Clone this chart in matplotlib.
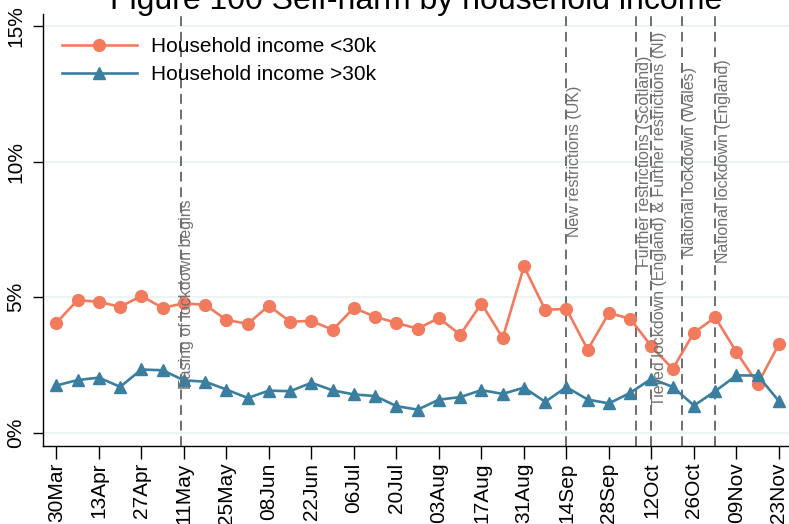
import pandas as pd
import matplotlib
matplotlib.use('Agg')
import matplotlib.pyplot as plt
import matplotlib.dates as mdates

plt.rcParams['font.family'] = ['Liberation Sans', 'DejaVu Sans']

# weekly survey waves (2020)
weeks = ['30Mar', '06Apr', '13Apr', '20Apr', '27Apr', '04May', '11May', '18May',
         '25May', '01Jun', '08Jun', '15Jun', '22Jun', '29Jun', '06Jul', '13Jul',
         '20Jul', '27Jul', '03Aug', '10Aug', '17Aug', '24Aug', '31Aug', '07Sep',
         '14Sep', '21Sep', '28Sep', '05Oct', '12Oct', '19Oct', '26Oct', '02Nov',
         '09Nov', '16Nov', '23Nov']

# % reporting self-harm
income_low = [4.06, 4.90, 4.83, 4.65, 5.05, 4.61, 4.78, 4.72, 4.17, 4.02,
              4.69, 4.10, 4.13, 3.80, 4.61, 4.28, 4.06, 3.84, 4.24, 3.62,
              4.77, 3.50, 6.14, 4.54, 4.57, 3.07, 4.42, 4.21, 3.19, 2.36,
              3.70, 4.26, 2.98, 1.81, 3.28]
income_high = [1.75, 1.95, 2.04, 1.70, 2.34, 2.31, 1.94, 1.89, 1.60, 1.29,
               1.56, 1.54, 1.85, 1.57, 1.42, 1.36, 0.99, 0.86, 1.23, 1.32,
               1.58, 1.44, 1.67, 1.15, 1.69, 1.23, 1.09, 1.48, 2.00, 1.70,
               1.01, 1.54, 2.12, 2.12, 1.17]

# policy events (date, label, label height in %)
event_dates = ['10May', '14Sep', '07Oct', '12Oct', '22Oct', '02Nov']
event_labels = ['Easing of lockdown begins', 'New restrictions (UK)',
                'Further restrictions (Scotland)',
                'Tiered lockdown (England) & Further restrictions (NI)',
                'National lockdown (Wales)', 'National lockdown (England)']
event_label_y = [5.1, 10.0, 10.0, 7.88, 10.0, 10.0]

def to_date(s):
    return pd.to_datetime(s + '2020', format='%d%b%Y')

x = [to_date(w) for w in weeks]
ev_x = [to_date(d) for d in event_dates]

orange = '#F27B5D'
blue = '#3A7FA0'

fig = plt.figure(figsize=(7.89, 5.24), dpi=100)
ax = fig.add_axes([43 / 789, 78 / 524, 1 - 43 / 789, 432 / 524])

for yv in [0, 5, 10, 15]:
    ax.axhline(yv, color='#EAF2F3', lw=1.2, zorder=0)

ax.plot(x, income_low, color=orange, lw=1.9, marker='o', ms=8.5,
        label='Household income <30k', zorder=3)
ax.plot(x, income_high, color=blue, lw=1.9, marker='^', ms=9,
        label='Household income >30k', zorder=3)

for d, lab, ly in zip(ev_x, event_labels, event_label_y):
    ax.axvline(d, color='#6E6E6E', lw=1.4, ls=(0, (5, 3)), zorder=2)
    # the first label sits across its line, the others just right of it
    if lab.startswith('Easing'):
        ax.text(d + pd.Timedelta(days=2), ly, lab, rotation=90, color='#707070',
                fontsize=11.5, ha='center', va='center', zorder=4)
    else:
        ax.text(d + pd.Timedelta(days=0.2), ly, lab, rotation=90, color='#707070',
                fontsize=11.5, ha='left', va='center', zorder=4)

start = x[0]
ax.set_xlim(start - pd.Timedelta(days=4.41), start + pd.Timedelta(days=241.3))
ax.set_ylim(-0.48, 15.44)

ax.set_xticks(x[::2])
ax.xaxis.set_major_formatter(mdates.DateFormatter('%d%b'))
ax.set_yticks([0, 5, 10, 15])
ax.set_yticklabels(['0%', '5%', '10%', '15%'])
ax.tick_params(axis='x', labelrotation=90, labelsize=15, length=9, width=1, pad=3)
ax.tick_params(axis='y', labelrotation=90, labelsize=15, length=7, width=1, pad=6)
for lbl in ax.get_yticklabels():
    lbl.set_va('center')

for s in ['top', 'right']:
    ax.spines[s].set_visible(False)
ax.spines['left'].set_linewidth(1)
ax.spines['bottom'].set_linewidth(1)

ax.legend(loc='upper left', bbox_to_anchor=(0.0, 0.99), frameon=False,
          fontsize=15, handlelength=3.6, handletextpad=0.7, labelspacing=0.45,
          borderaxespad=0.5)

# title is partly cropped at the top edge, as in the source image
fig.text(0.528, 1 - 9 / 524, 'Figure 100 Self-harm by household income',
         ha='center', va='baseline', fontsize=23)

fig.savefig('out.png', dpi=100)
